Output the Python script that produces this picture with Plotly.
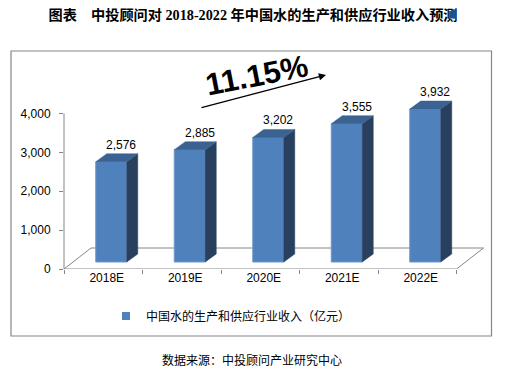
import plotly.graph_objects as go

# ---- data ----
categories = ["2018E", "2019E", "2020E", "2021E", "2022E"]
revenue = [2576, 2885, 3202, 3555, 3932]
y_ticks = [0, 1000, 2000, 3000, 4000]
series_name = "中国水的生产和供应行业收入（亿元）"
growth_label = "11.15%"
title_text = "图表　中投顾问对 2018-2022 年中国水的生产和供应行业收入预测"
source_text = "数据来源：中投顾问产业研究中心"

# ---- geometry (pixel based) ----
W, H = 506, 371
PL, PR = 64, 492          # plot area left/right px
PT, PB = 51, 269          # plot area top/bottom px
BAND_PX = 78.5            # px per category
YPX = 0.0389              # px per value unit
x_lo = -0.5
x_hi = x_lo + (PR - PL) / BAND_PX
y_hi = (PB - PT) / YPX

def ux(px):  # px -> x units
    return px / BAND_PX

def uy(px):  # px -> y units
    return px / YPX

bar_off = ux(8)
bar_w = ux(31)
depth_x = ux(11)
depth_y = uy(8)
base = uy(7)

FRONT = "#4F81BD"
SIDE = "#283F5E"
TOP = "#3B6291"
GRAY = "#868686"

fig = go.Figure()

# side + top faces
for i, v in enumerate(revenue):
    xl = i + bar_off - bar_w / 2
    xr = i + bar_off + bar_w / 2
    top = base + v
    fig.add_trace(go.Scatter(
        x=[xr, xr + depth_x, xr + depth_x, xr, xr],
        y=[base, base + depth_y, top + depth_y, top, base],
        fill="toself", fillcolor=SIDE, mode="lines",
        line=dict(width=0.5, color=SIDE), hoverinfo="skip", showlegend=False))
    fig.add_trace(go.Scatter(
        x=[xl, xl + depth_x, xr + depth_x, xr, xl],
        y=[top, top + depth_y, top + depth_y, top, top],
        fill="toself", fillcolor=TOP, mode="lines",
        line=dict(width=0.5, color=TOP), hoverinfo="skip", showlegend=False))

# front faces
fig.add_trace(go.Bar(
    x=[i + bar_off for i in range(len(categories))], y=revenue, base=base,
    width=bar_w, marker=dict(color=FRONT, line=dict(color="#6F97CB", width=1)),
    showlegend=False, hoverinfo="skip"))

# legend entry
fig.add_trace(go.Scatter(
    x=[None], y=[None], mode="markers", name=series_name,
    marker=dict(symbol="square", size=8, color=FRONT)))

# data labels
for i, v in enumerate(revenue):
    fig.add_annotation(x=i + bar_off + ux(10), y=base + v, xref="x", yref="y",
                       text=f"{v:,}", showarrow=False, yshift=17,
                       xanchor="center", yanchor="middle",
                       font=dict(family="Liberation Sans, Arial", size=12, color="#000"))

# floor (below traces)
fdx, fdy = ux(27), uy(21)
floor_x_end = x_lo + len(categories)
for (x0, y0, x1, y1) in [
    (x_lo + fdx, fdy, floor_x_end + fdx, fdy),
    (x_lo, 0, x_lo + fdx, fdy),
    (floor_x_end, 0, floor_x_end + fdx, fdy),
    (x_lo, 0, floor_x_end, 0),
]:
    fig.add_shape(type="line", x0=x0, y0=y0, x1=x1, y1=y1, xref="x", yref="y",
                  line=dict(color=GRAY, width=1), layer="below")

# y axis line
fig.add_shape(type="line", x0=0, x1=0, xref="paper", y0=0, y1=y_ticks[-1], yref="y",
              line=dict(color=GRAY, width=1))

# frame
fig.add_shape(type="rect", xref="paper", yref="paper",
              x0=(11 - PL) / (PR - PL), x1=(491.5 - PL) / (PR - PL),
              y0=(PB - 336) / (PB - PT), y1=(PB - 51) / (PB - PT),
              line=dict(color=GRAY, width=1.2))

# growth arrow + label
def px_paper(px, py):
    return (px - PL) / (PR - PL), (PB - py) / (PB - PT)

hx, hy = px_paper(326, 75)
fig.add_annotation(x=hx, y=hy, xref="paper", yref="paper", ax=-126, ay=33,
                   text="", showarrow=True, arrowhead=2, arrowsize=1.1,
                   arrowwidth=1.3, arrowcolor="#000")
gx, gy = px_paper(256, 75)
fig.add_annotation(x=gx, y=gy, xref="paper", yref="paper", text=growth_label,
                   showarrow=False, textangle=-11, xanchor="center", yanchor="middle",
                   font=dict(family="Liberation Sans, Arial", size=31, color="#000",
                             weight="bold"))

# source
sx, sy = px_paper(252, 359)
fig.add_annotation(x=sx, y=sy, xref="paper", yref="paper", text=source_text,
                   showarrow=False, xanchor="center", yanchor="middle",
                   font=dict(family="Noto Sans CJK SC", size=12, color="#000"))

lx, ly = px_paper(106, 316)
fig.update_layout(
    width=W, height=H,
    margin=dict(l=PL, r=W - PR, t=PT, b=H - PB, pad=0, autoexpand=False),
    paper_bgcolor="white", plot_bgcolor="white",
    title=dict(text=title_text, x=0.5, xref="container", xanchor="center",
               y=1 - 15 / H, yref="container", yanchor="middle",
               font=dict(family="Liberation Serif, Noto Sans CJK SC", size=14.2,
                         color="#000", weight="bold")),
    showlegend=True,
    legend=dict(x=lx, y=ly, xanchor="left", yanchor="middle", bgcolor="rgba(0,0,0,0)",
                font=dict(family="Noto Sans CJK SC", size=12, color="#000")),
    xaxis=dict(range=[x_lo, x_hi], showgrid=False, zeroline=False, showline=False,
               tickmode="array", tickvals=[i + ux(3.5) for i in range(len(categories))],
               ticktext=categories, ticks="",
               minor=dict(tickmode="array",
                          tickvals=[x_lo + k for k in range(len(categories) + 1)],
                          ticks="outside", ticklen=4, tickcolor=GRAY),
               tickfont=dict(family="Liberation Sans, Arial", size=12, color="#000")),
    yaxis=dict(range=[0, y_hi], showgrid=False, zeroline=False, showline=False,
               tickmode="array", tickvals=y_ticks, tickformat=",",
               ticks="outside", ticklen=4, tickcolor=GRAY, ticklabelstandoff=6,
               tickfont=dict(family="Liberation Sans, Arial", size=12, color="#000")),
)

fig.write_html("out.html", config={"displayModeBar": False},
               post_script="document.body.style.margin='0px';")
